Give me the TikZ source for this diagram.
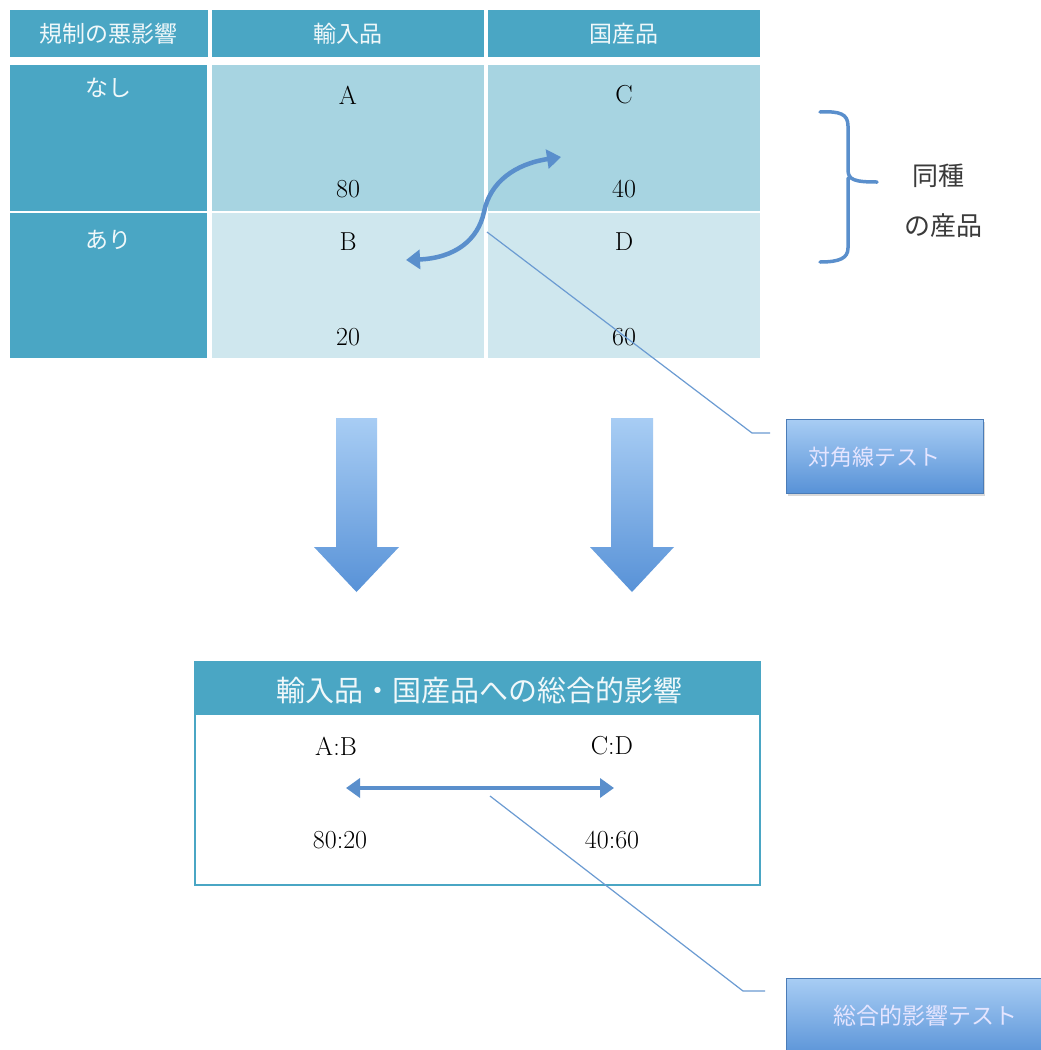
\documentclass[tikz,border=0pt]{standalone}
\usepackage{fontspec}
\newfontfamily\jp{Noto Sans CJK JP}[Scale=1]
\usetikzlibrary{arrows.meta,shadows}
\definecolor{tealhd}{HTML}{4AA6C4}
\definecolor{rowone}{HTML}{A7D4E1}
\definecolor{rowtwo}{HTML}{CFE7EE}
\definecolor{arrblue}{HTML}{5A8FCC}
\definecolor{btop}{HTML}{A8CDF4}
\definecolor{bbot}{HTML}{5892D7}
\definecolor{lineblue}{HTML}{6B9BD2}
\definecolor{txtgray}{HTML}{3A3A3A}
\tikzset{
  cellbox/.style={draw=none, inner sep=0pt, anchor=center},
  hdtxt/.style={text=white!92!tealhd, font=\jp\fontsize{23}{25}\selectfont, inner sep=0pt},
  lattxt/.style={text=black, font=\fontsize{26}{28}\selectfont, inner sep=0pt},
  thickarr/.style={draw=arrblue, line width=4.5pt, {Triangle[length=14pt,width=19pt]}-{Triangle[length=14pt,width=19pt]}},
  callout/.style={draw=lineblue, line width=1.2pt},
  testbox/.style={top color=btop, bottom color=bbot, draw=bbot!85!black, line width=0.4pt,
     text=white!90!blue, font=\jp\fontsize{22}{24}\selectfont, inner sep=0pt,
     drop shadow={opacity=0.3, shadow xshift=1.5pt, shadow yshift=-3pt}},
  bigdown/.style={top color=btop, bottom color=bbot, draw=none}
}
\begin{document}
\begin{tikzpicture}[x=1pt,y=-1pt]
\useasboundingbox[fill=white] (0,0) rectangle (1041,1050);
% header row
\node[cellbox, fill=tealhd, minimum width=198, minimum height=47] (h0) at (109,33.5) {};
\node[cellbox, fill=tealhd, minimum width=272, minimum height=47] (h1) at (348,33.5) {};
\node[cellbox, fill=tealhd, minimum width=272, minimum height=47] (h2) at (624,33.5) {};
\node[hdtxt] (t0) at (108,34) {規制の悪影響};
\node[hdtxt] (t1) at (348,34) {輸入品};
\node[hdtxt] (t2) at (624,34) {国産品};
% body
\node[cellbox, fill=tealhd, minimum width=197, minimum height=146] (l1) at (108.5,137.5) {};
\node[cellbox, fill=tealhd, minimum width=197, minimum height=145] (l2) at (108.5,285) {};
\node[cellbox, fill=rowone, minimum width=272, minimum height=146] (a) at (348,137.5) {};
\node[cellbox, fill=rowone, minimum width=272, minimum height=146] (c) at (624,137.5) {};
\node[cellbox, fill=rowtwo, minimum width=272, minimum height=145] (b) at (348,285) {};
\node[cellbox, fill=rowtwo, minimum width=272, minimum height=145] (d) at (624,285) {};
\node[hdtxt] (nashi) at (108,88) {なし};
\node[hdtxt] (ari) at (108,240) {あり};
\node[lattxt] (ta) at (348,95) {A};
\node[lattxt] (t80) at (348,189) {80};
\node[lattxt] (tc) at (624,95) {C};
\node[lattxt] (t40) at (624,189) {40};
\node[lattxt] (tb) at (348,242) {B};
\node[lattxt] (t20) at (348,337) {20};
\node[lattxt] (td) at (624,242) {D};
\node[lattxt] (t60) at (624,337) {60};
% curved double arrow between B and C
\coordinate (cb) at (406,260);
\coordinate (cc) at (561,157);
\draw[thickarr] (cb) .. controls (455,258) and (478,240) .. (484,212) .. controls (490,182) and (515,164) .. (cc);
% brace and label
\draw[draw=arrblue, line width=3.5pt, line cap=round]
  (820,112) .. controls (840,111) and (848,114) .. (848,126) -- (848,170)
  .. controls (848,180) and (855,182) .. (877,182);
\draw[draw=arrblue, line width=3.5pt, line cap=round]
  (848,178) .. controls (848,184) and (848,186) .. (848,196) -- (848,248)
  .. controls (848,258) and (840,262) .. (820,262);
\node[text=txtgray, font=\jp\fontsize{26}{28}\selectfont, inner sep=0pt] (same1) at (938,176) {同種};
\node[text=txtgray, font=\jp\fontsize{26}{28}\selectfont, inner sep=0pt] (same2) at (943,226) {の産品};
% diagonal test box and callout
\node[testbox, minimum width=197, minimum height=74] (diag) at (884.5,456) {};
\node[text=white!90!blue, font=\jp\fontsize{22}{24}\selectfont, inner sep=0pt] (diagtxt) at (874,457) {対角線テスト};
\coordinate (m1) at (487,232);
\coordinate (k1) at (752,433);
\coordinate (e1) at (770,433);
\draw[callout] (m1) -- (k1) -- (e1);
% big down arrows
\shade[bigdown] (336,418) -- (377,418) -- (377,547) -- (399,547) -- (356.5,592) -- (314,547) -- (336,547) -- cycle;
\shade[bigdown] (611,418) -- (653,418) -- (653,547) -- (674,547) -- (632,592) -- (590,547) -- (611,547) -- cycle;
% bottom box
\node[cellbox, draw=tealhd, line width=2pt, minimum width=565, minimum height=223] (total) at (477.5,773.5) {};
\node[cellbox, fill=tealhd, minimum width=565, minimum height=53] (totalhd) at (477.5,688.5) {};
\node[text=white!92!tealhd, font=\jp\fontsize{29}{31}\selectfont, inner sep=0pt] (tt) at (479,690) {輸入品・国産品への総合的影響};
\node[lattxt] (ab) at (336,746) {A:B};
\node[lattxt] (cd) at (612,746) {C:D};
\node[lattxt] (r1) at (340,840) {80:20};
\node[lattxt] (r2) at (612,840) {40:60};
\coordinate (hl) at (346,788);
\coordinate (hr) at (614,788);
\draw[thickarr] (hl) -- (hr);
% total test box and callout
\node[testbox, minimum width=270, minimum height=80] (totaltest) at (921,1018) {};
\node[text=white!90!blue, font=\jp\fontsize{23}{25}\selectfont, inner sep=0pt] (tttxt) at (925,1016) {総合的影響テスト};
\coordinate (m2) at (490,796);
\coordinate (k2) at (743,991);
\coordinate (e2) at (765,991);
\draw[callout] (m2) -- (k2) -- (e2);
\end{tikzpicture}
\end{document}
